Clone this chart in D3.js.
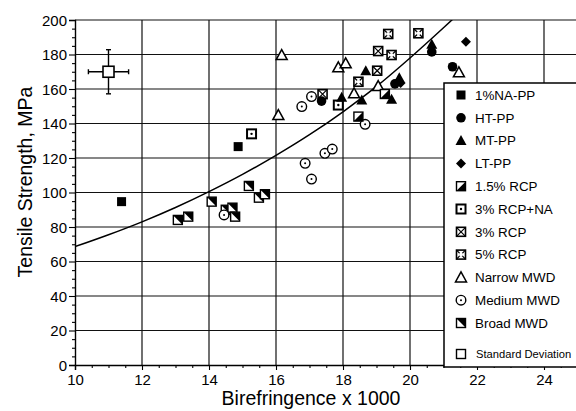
<!DOCTYPE html>
<html>
<head>
<meta charset="utf-8">
<script src="https://cdn.jsdelivr.net/npm/d3@7"></script>
<style>
  html, body { margin: 0; padding: 0; background: #fff; }
  svg { display: block; font-family: "Liberation Sans", Arial, Helvetica, sans-serif; }
</style>
</head>
<body>
<svg id="chart" width="576" height="411"></svg>
<script>
// Tensile strength vs. birefringence for PP fibres
const xTicks = [10, 12, 14, 16, 18, 20, 22, 24];
const yTicks = [0, 20, 40, 60, 80, 100, 120, 140, 160, 180, 200];

const naPP      = [[11.39, 94.7], [14.87, 126.6]];
const htPP      = [[17.36, 153], [19.55, 163], [20.65, 181.5], [21.27, 172.9]];
const mtPP      = [[17.96, 155.2], [18.56, 153.6], [18.68, 170.6], [19.45, 154], [19.68, 166.5], [20.65, 186]];
const ltPP      = [[19.72, 163.5], [21.67, 187.4]];
const rcp15     = [[18.46, 144], [19.25, 157.1]];
const rcp3NA    = [[15.27, 134], [17.86, 150.7]];
const rcp3      = [[17.39, 157], [19.02, 170.6], [19.05, 182]];
const rcp5      = [[18.46, 164.2], [19.35, 191.9], [19.45, 179.7], [20.25, 192.3]];
const narrowMWD = [[16.07, 144.9], [16.17, 179.7], [17.86, 172.6], [18.08, 174.9], [18.33, 157.5], [19.05, 161.7], [21.46, 169.7]];
const mediumMWD = [[14.45, 87], [16.77, 149.8], [16.87, 116.9], [17.06, 155.6], [17.06, 107.8], [17.46, 122.7], [17.68, 125.2], [18.66, 139.5]];
const broadMWD  = [[13.07, 84.1], [13.38, 86], [14.08, 94.7], [14.5, 90], [14.7, 91.2], [14.78, 86], [15.19, 103.8], [15.49, 97], [15.67, 99]];

// Trend curve, points along the drawn fit
const fitX = [10, 11, 12, 13, 14, 15, 16, 17, 18, 19, 20, 21, 21.8];
const fitY = [68.6, 75.5, 83, 91.3, 100.5, 110.5, 121.5, 133.5, 146.8, 161.5, 178, 195.5, 210];

// Standard deviation marker: centre and half-widths
const sdPoint = [11, 170];
const sdErrX = 0.6;
const sdErrY = 12.8;

const seriesNames = ["1%NA-PP", "HT-PP", "MT-PP", "LT-PP", "1.5% RCP", "3% RCP+NA", "3% RCP", "5% RCP", "Narrow MWD", "Medium MWD", "Broad MWD"];
const seriesData  = [naPP, htPP, mtPP, ltPP, rcp15, rcp3NA, rcp3, rcp5, narrowMWD, mediumMWD, broadMWD];
const seriesShape = ["fsquare", "fcircle", "ftri", "fdiamond", "half15", "sqdot", "sqx", "sqx5", "otri", "ocircle", "halfbroad"];

const svg = d3.select("#chart");
const plotLeft = 75, plotRight = 577.5, plotTop = 20, plotBottom = 365;
const x = d3.scaleLinear().domain([10, 25]).range([plotLeft, plotRight]);
const y = d3.scaleLinear().domain([0, 200]).range([plotBottom, plotTop]);

svg.append("defs").append("clipPath").attr("id", "plotclip")
  .append("rect").attr("x", plotLeft).attr("y", plotTop)
  .attr("width", plotRight - plotLeft).attr("height", plotBottom - plotTop);

// grid
const grid = svg.append("g").attr("stroke", "#111").attr("stroke-width", 1.2);
xTicks.filter(v => v > 10).forEach(v => {
  grid.append("line").attr("x1", x(v)).attr("x2", x(v)).attr("y1", plotTop).attr("y2", plotBottom);
});
yTicks.filter(v => v > 0).forEach(v => {
  grid.append("line").attr("x1", plotLeft).attr("x2", plotRight).attr("y1", y(v)).attr("y2", y(v));
});

// axes
const yAxis = svg.append("g").attr("transform", `translate(${plotLeft},0)`)
  .call(d3.axisLeft(y).tickValues(yTicks).tickSize(6).tickPadding(2).tickFormat(d3.format("d")));
const yMinor = svg.append("g").attr("transform", `translate(${plotLeft},0)`)
  .call(d3.axisLeft(y).tickValues(d3.range(0, 201, 5).filter(v => v % 20 !== 0)).tickSize(3).tickFormat(""));
const xAxis = svg.append("g").attr("transform", `translate(0,${plotBottom})`)
  .call(d3.axisBottom(x).tickValues(xTicks).tickSize(5).tickPadding(4).tickFormat(d3.format("d")));
const xMinor = svg.append("g").attr("transform", `translate(0,${plotBottom})`)
  .call(d3.axisBottom(x).tickValues(d3.range(10, 25.01, 0.5).filter(v => v % 2 !== 0)).tickSize(3).tickFormat(""));
[yAxis, yMinor, xAxis, xMinor].forEach(g => {
  g.select(".domain").attr("stroke", "#000").attr("stroke-width", 1.4);
  g.selectAll(".tick line").attr("stroke", "#000").attr("stroke-width", 1.1);
  g.selectAll(".tick text").attr("fill", "#000").style("font-size", "15px")
    .style("font-family", "'Liberation Sans', Arial, sans-serif");
});
yMinor.select(".domain").remove();
xMinor.select(".domain").remove();
yAxis.selectAll(".tick text").attr("dy", "0.36em");

// axis titles
svg.append("text").attr("x", 311).attr("y", 405).attr("text-anchor", "middle")
  .style("font-size", "19.5px").text("Birefringence x 1000");
svg.append("text").attr("transform", "translate(32,182) rotate(-90)").attr("text-anchor", "middle")
  .style("font-size", "19.5px").text("Tensile Strength, MPa");

// fit curve
svg.append("path")
  .datum(fitX.map((v, i) => [v, fitY[i]]))
  .attr("clip-path", "url(#plotclip)")
  .attr("fill", "none").attr("stroke", "#000").attr("stroke-width", 1.5)
  .attr("d", d3.line().x(d => x(d[0])).y(d => y(d[1])).curve(d3.curveMonotoneX));

// marker renderer
function marker(g, shape) {
  const s = 4.5;
  const sq = () => g.append("rect").attr("x", -s).attr("y", -s).attr("width", 2 * s).attr("height", 2 * s);
  switch (shape) {
    case "fsquare":
      sq().attr("fill", "#000"); break;
    case "fcircle":
      g.append("circle").attr("r", 4.8).attr("fill", "#000"); break;
    case "ftri":
      g.append("path").attr("d", "M0,-5.5L5.5,4.5L-5.5,4.5Z").attr("fill", "#000"); break;
    case "fdiamond":
      g.append("path").attr("d", "M0,-5L5,0L0,5L-5,0Z").attr("fill", "#000"); break;
    case "half15":
      sq().attr("fill", "#fff").attr("stroke", "#000").attr("stroke-width", 1.4);
      g.append("path").attr("d", `M${-s},${s}L${s},${-s}L${s},${s}Z`).attr("fill", "#000"); break;
    case "halfbroad":
      sq().attr("fill", "#fff").attr("stroke", "#000").attr("stroke-width", 1.4);
      g.append("path").attr("d", `M${-s},${-s}L${s},${-s}L${s},${s}L${-s + 3},${-s + 3}Z`).attr("fill", "#000");
      break;
    case "sqdot":
      sq().attr("fill", "#fff").attr("stroke", "#000").attr("stroke-width", 2);
      g.append("circle").attr("r", 1.2).attr("fill", "#000"); break;
    case "sqx":
      sq().attr("fill", "#fff").attr("stroke", "#000").attr("stroke-width", 1.6);
      g.append("path").attr("d", `M${-s},${-s}L${s},${s}M${s},${-s}L${-s},${s}`).attr("stroke", "#000").attr("stroke-width", 1.2);
      break;
    case "sqx5":
      sq().attr("fill", "#fff").attr("stroke", "#000").attr("stroke-width", 1.6);
      g.append("path").attr("d", `M${-s},${-s}L${s},${s}M${s},${-s}L${-s},${s}`).attr("stroke", "#000").attr("stroke-width", 1.2);
      g.append("rect").attr("x", -1.6).attr("y", -1.6).attr("width", 3.2).attr("height", 3.2).attr("fill", "#fff");
      break;
    case "otri":
      g.append("path").attr("d", "M0,-5.5L5.5,4.5L-5.5,4.5Z").attr("fill", "#fff").attr("stroke", "#000").attr("stroke-width", 1.5); break;
    case "ocircle":
      g.append("circle").attr("r", 4.8).attr("fill", "#fff").attr("stroke", "#000").attr("stroke-width", 1.4);
      g.append("circle").attr("r", 1).attr("fill", "#000"); break;
    case "osquare":
      sq().attr("fill", "#fff").attr("stroke", "#000").attr("stroke-width", 1.4); break;
  }
}

// data points (open/pattern series first, filled series on top)
const drawOrder = [10, 9, 8, 7, 6, 5, 4, 0, 3, 2, 1];
drawOrder.forEach(i => {
  svg.append("g").selectAll("g").data(seriesData[i]).join("g")
    .attr("transform", d => `translate(${x(d[0])},${y(d[1])})`)
    .each(function () { marker(d3.select(this), seriesShape[i]); });
});

// standard deviation cross
const sd = svg.append("g").attr("stroke", "#000").attr("stroke-width", 1.4);
sd.append("line").attr("x1", x(sdPoint[0] - sdErrX)).attr("x2", x(sdPoint[0] + sdErrX)).attr("y1", y(sdPoint[1])).attr("y2", y(sdPoint[1]));
sd.append("line").attr("x1", x(sdPoint[0])).attr("x2", x(sdPoint[0])).attr("y1", y(sdPoint[1] - sdErrY)).attr("y2", y(sdPoint[1] + sdErrY));
[[sdPoint[0] - sdErrX, sdPoint[1], "v"], [sdPoint[0] + sdErrX, sdPoint[1], "v"],
 [sdPoint[0], sdPoint[1] - sdErrY, "h"], [sdPoint[0], sdPoint[1] + sdErrY, "h"]].forEach(c => {
  const cx = x(c[0]), cy = y(c[1]);
  if (c[2] === "v") sd.append("line").attr("x1", cx).attr("x2", cx).attr("y1", cy - 2.5).attr("y2", cy + 2.5);
  else sd.append("line").attr("x1", cx - 2.5).attr("x2", cx + 2.5).attr("y1", cy).attr("y2", cy);
});
const sdMark = svg.append("g").attr("transform", `translate(${x(sdPoint[0])},${y(sdPoint[1])})`);
sdMark.append("rect").attr("x", -5.5).attr("y", -5.5).attr("width", 11).attr("height", 11)
  .attr("fill", "#fff").attr("stroke", "#000").attr("stroke-width", 1.6);

// legend
const lg = svg.append("g");
lg.append("rect").attr("x", 444).attr("y", 83).attr("width", 160).attr("height", 284)
  .attr("fill", "#fff").attr("stroke", "#000").attr("stroke-width", 1.5);
seriesNames.forEach((name, i) => {
  const ly = 95 + i * 22.8;
  const m = lg.append("g").attr("transform", `translate(461,${ly})`);
  marker(m, seriesShape[i]);
  lg.append("text").attr("x", 475).attr("y", ly).attr("dy", "0.36em")
    .style("font-size", "13.4px").text(name);
});
const sdl = lg.append("g").attr("transform", "translate(461,354)");
marker(sdl, "osquare");
lg.append("text").attr("x", 476).attr("y", 354).attr("dy", "0.36em")
  .style("font-size", "11.2px").text("Standard Deviation");
</script>
</body>
</html>
